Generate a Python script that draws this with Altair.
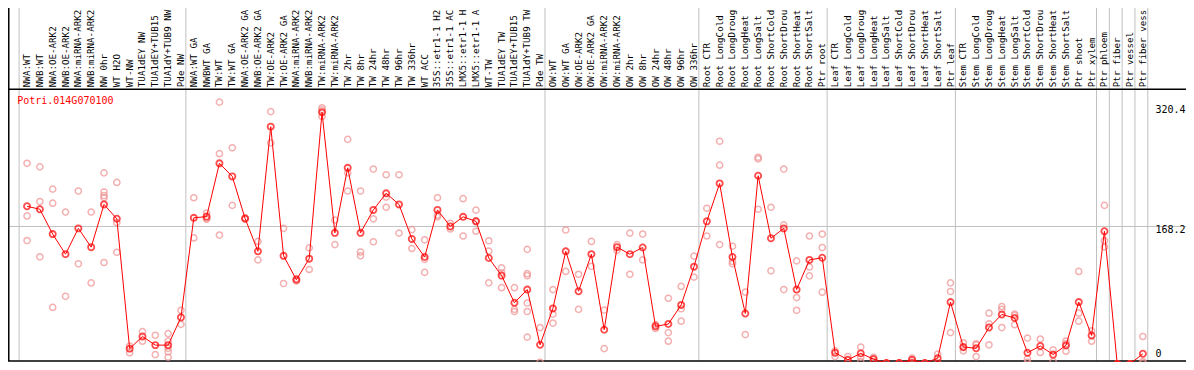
import altair as alt
import pandas as pd

# ---------------- data ----------------
names = [
    "NWA:WT", "NWB:WT", "NWA:OE-ARK2", "NWB:OE-ARK2", "NWA:miRNA-ARK2", "NWB:miRNA-ARK2",
    "NW 0hr", "WT H2O", "WT-NW", "TUA1dEY NW", "TUA1dEY+TUB15", "TUA1dY+TUB9 NW", "Pde NW",
    "NWA:WT GA", "NWBWT GA", "TW:WT", "TW:WT GA", "NWA:OE-ARK2 GA", "NWB:OE-ARK2 GA",
    "TW:OE-ARK2", "TW:OE-ARK2 GA", "NWA:miRNA-ARK2", "NWB:miRNA-ARK2", "TW:miRNA-ARK2",
    "TW:miRNA-ARK2", "TW 2hr", "TW 8hr", "TW 24hr", "TW 48hr", "TW 96hr", "TW 336hr",
    "WT ACC", "35S::etr1-1 H2", "35S::etr1-1 AC", "LMX5::etr1-1 H", "LMX5::etr1-1 A",
    "WT-TW", "TUA1dEY TW", "TUA1dEY+TUB15", "TUA1dY+TUB9 TW", "Pde TW",
    "OW:WT", "OW:WT GA", "OW:OE-ARK2", "OW:OE-ARK2 GA", "OW:miRNA-ARK2", "OW:miRNA-ARK2",
    "OW 2hr", "OW 8hr", "OW 24hr", "OW 48hr", "OW 96hr", "OW 336hr",
    "Root CTR", "Root LongCold", "Root LongDroug", "Root LongHeat", "Root LongSalt",
    "Root ShortCold", "Root ShortDrou", "Root ShortHeat", "Root ShortSalt", "Ptr root",
    "Leaf CTR", "Leaf LongCold", "Leaf LongDroug", "Leaf LongHeat", "Leaf LongSalt",
    "Leaf ShortCold", "Leaf ShortDrou", "Leaf ShortHeat", "Leaf ShortSalt", "Ptr leaf",
    "Stem CTR", "Stem LongCold", "Stem LongDroug", "Stem LongHeat", "Stem LongSalt",
    "Stem ShortCold", "Stem ShortDrou", "Stem ShortHeat", "Stem ShortSalt", "Ptr shoot",
    "Ptr xylem", "Ptr phloem", "Ptr fiber", "Ptr vessel", "Ptr fiber vess",
]

group_sizes = [13, 28, 12, 10, 10, 11, 1, 1, 1, 1]

means = [
    192.9, 189.3, 158.9, 134.3, 165.9, 142.9, 195.2, 177.6, 18.7, 33.6, 23.0, 23.0, 57.0,
    178.8, 180.3, 245.5, 229.5, 178.0, 137.8, 290.4, 132.3, 103.0, 128.8, 308.0, 160.4,
    240.0, 160.4, 188.5, 208.8, 195.2, 153.0, 130.8, 188.5, 168.3, 180.0, 174.5, 129.6,
    108.1, 74.9, 91.0, 23.4,
    67.9, 137.8, 89.0, 134.3, 41.8, 142.9, 134.3, 142.5, 46.0, 48.8, 72.2, 119.0,
    174.5, 220.9, 130.8, 61.7, 230.3, 153.8, 165.9, 91.0, 127.3, 130.0,
    13.7, 5.0, 12.9, 5.9, 1.0, 1.0, 5.0, 1.0, 7.0, 75.7,
    20.7, 19.1, 44.5, 60.5, 56.2, 13.7, 21.9, 11.4, 22.6, 75.7, 34.8,
    162.4, 0.0, 0.0, 12.5,
]

replicates = [
    [245.5, 181.1, 151.0], [241.2, 198.7, 131.1], [213.9, 196.7, 69.1], [185.8, 82.8],
    [211.6, 122.6], [185.8, 99.1], [233.8, 210.4, 206.1, 203.4, 124.1],
    [222.1, 172.9, 136.6], [21.9, 13.7], [39.5, 27.8], [35.1, 11.4],
    [37.1, 27.8, 19.1, 14.9, 8.2], [65.6, 48.4],
    [203.4, 154.2], [184.7, 178.3, 177.0], [320.4, 257.3, 157.7], [264.6, 194.0],
    [178.8, 177.2], [149.9, 127.3], [308.8, 270.5], [165.9, 98.4], [104.5, 101.5],
    [142.0, 115.6], [313.5, 311.0, 302.9], [176.0, 146.0], [274.8, 233.8, 211.6],
    [211.6, 137.0, 132.3], [238.5, 177.6, 149.5], [231.5, 204.1, 191.7], [231.5, 160.1],
    [164.3, 141.3], [151.9, 128.0, 112.0], [203.4, 182.0, 180.0], [172.1, 165.1],
    [202.2, 156.6], [188.2, 175.0, 162.4], [150.7, 138.2, 99.2], [117.5, 111.6, 93.3],
    [93.3, 66.7, 64.1], [140.2, 110.5, 108.0, 74.5, 64.1, 32.8], [44.5, 2.0],
    [91.0, 60.9, 50.0], [163.9, 113.2], [109.7, 66.7], [149.9, 119.4], [65.9, 18.7],
    [146.0, 139.0], [160.1, 109.7], [158.9, 127.3], [48.0, 43.3], [80.4, 38.3, 27.8],
    [94.8, 67.5, 52.3], [131.9, 106.2],
    [190.5, 156.6], [272.5, 243.2, 146.0], [144.0, 125.3, 122.6], [87.8, 35.9],
    [252.9, 250.9, 189.3], [191.7, 113.9], [238.5, 170.1, 91.0], [126.1, 81.2, 65.6],
    [156.6, 118.6, 107.7], [158.9, 142.5, 87.8],
    [16.0, 9.0], [9.0, 1.0], [20.7, 8.2, 3.0], [8.2, 3.0], [1.0, 0.5], [1.5, 0.5],
    [7.0, 2.0], [1.0, 0.5], [12.0, 1.5], [99.2, 88.6, 38.3],
    [25.8, 20.0, 16.0], [24.6, 23.5, 9.0], [62.1, 49.2, 23.4], [70.3, 66.7, 44.5],
    [60.9, 59.5, 48.0], [31.6, 6.2, 2.0], [30.4, 14.0], [17.2, 3.0], [28.0, 24.6, 15.6],
    [113.2, 62.1, 52.3], [40.6, 27.8],
    [194.0, 150.7, 143.2], [0.0, 0.0], [0.0, 0.0], [33.6, 3.0, 1.0],
]

gene = "Potri.014G070100"
tick_values = [320.4, 168.2, 0]
tick_labels = ["320.4", "168.2", "0"]

# ---------------- layout / style ----------------
W, H = 1178, 354
PX = 0.854                      # pixels per unit in the reference
X0, X1 = -1.485, 90.36          # x domain (column index units)
YB, YT = 2.34, 435.6            # y domain (value units)
FRAME_TOP = 336.1               # value at which the label area ends
FRAME_BOT = 3.5
LABEL_Y = 338.7
FONT = "DejaVu Sans Mono"
RED = "#ff0000"
PINK = "#f09090"
GRID = "#c0c0c0"

xs = alt.Scale(domain=[X0, X1], nice=False, zero=False)
ys = alt.Scale(domain=[YB, YT], nice=False, zero=False)

df_mean = pd.DataFrame({"i": list(range(len(names))), "name": names, "mean": means})
rep_rows = []
for i, reps in enumerate(replicates):
    for r in reps:
        rep_rows.append({"i": i, "v": r})
df_rep = pd.DataFrame(rep_rows)

starts = []
acc = 0
for g in group_sizes:
    starts.append(acc)
    acc += g
starts.append(acc)
df_bounds = pd.DataFrame({"b": [k - 0.62 for k in starts]})

label_off_px = [8.7, 3.4, -10.0]
df_ticks = pd.DataFrame({
    "ly": [v - o / PX for v, o in zip(tick_values, label_off_px)],
    "t": tick_labels,
})
df_hgrid = pd.DataFrame({"v": [tick_values[1]]})

vgrid = alt.Chart(df_bounds).mark_rule(color=GRID, strokeWidth=1).encode(
    x=alt.X("b:Q", scale=xs, axis=None),
    y=alt.Y(datum=YT, scale=ys, axis=None),
    y2=alt.Y2(datum=FRAME_BOT),
)

hgrid = alt.Chart(df_hgrid).mark_rule(color=GRID, strokeWidth=1).encode(
    y=alt.Y("v:Q", scale=ys, axis=None),
    x=alt.X(datum=X0, scale=xs, axis=None),
    x2=alt.X2(datum=X1),
)

frame_h = alt.Chart(pd.DataFrame({"v": [FRAME_TOP, FRAME_BOT]})).mark_rule(
    color="black", strokeWidth=1.5
).encode(
    y=alt.Y("v:Q", scale=ys, axis=None),
    x=alt.X(datum=X0, scale=xs, axis=None),
    x2=alt.X2(datum=X1),
)

frame_v = alt.Chart(pd.DataFrame({"x": [X0 + 0.06]})).mark_rule(
    color="black", strokeWidth=1.5
).encode(
    x=alt.X("x:Q", scale=xs, axis=None),
    y=alt.Y(datum=YT, scale=ys, axis=None),
    y2=alt.Y2(datum=FRAME_BOT),
)

reps_layer = alt.Chart(df_rep).mark_point(
    shape="circle", filled=False, color=PINK, size=38, strokeWidth=1.5, clip=True
).encode(
    x=alt.X("i:Q", scale=xs, axis=None),
    y=alt.Y("v:Q", scale=ys, axis=None),
)

line_layer = alt.Chart(df_mean).mark_line(color=RED, strokeWidth=1, clip=True).encode(
    x=alt.X("i:Q", scale=xs, axis=None),
    y=alt.Y("mean:Q", scale=ys, axis=None),
    order="i:Q",
)

mean_layer = alt.Chart(df_mean).mark_point(
    shape="circle", filled=False, color=RED, size=38, strokeWidth=1.8, clip=True
).encode(
    x=alt.X("i:Q", scale=xs, axis=None),
    y=alt.Y("mean:Q", scale=ys, axis=None),
)

labels = alt.Chart(df_mean).mark_text(
    angle=270, align="left", baseline="middle", font=FONT, fontSize=9.2, color="black"
).encode(
    x=alt.X("i:Q", scale=xs, axis=None),
    y=alt.Y(datum=LABEL_Y, scale=ys, axis=None),
    text="name:N",
)

title = alt.Chart(pd.DataFrame({"t": [gene]})).mark_text(
    align="left", baseline="middle", font=FONT, fontSize=10, color=RED
).encode(
    x=alt.X(datum=-0.77, scale=xs, axis=None),
    y=alt.Y(datum=321.7, scale=ys, axis=None),
    text="t:N",
)

ticks = alt.Chart(df_ticks).mark_text(
    align="left", baseline="middle", font=FONT, fontSize=10, color="black"
).encode(
    x=alt.X(datum=87.98, scale=xs, axis=None),
    y=alt.Y("ly:Q", scale=ys, axis=None),
    text="t:N",
)

chart = alt.layer(
    vgrid, hgrid, frame_h, frame_v, reps_layer, line_layer, mean_layer, labels, title, ticks
).properties(
    width=W, height=H, padding=0,
    autosize=alt.AutoSizeParams(type="none"),
    background="white",
).configure_view(stroke="transparent")

chart.save("out.html", embed_options={"renderer": "svg", "actions": False})
